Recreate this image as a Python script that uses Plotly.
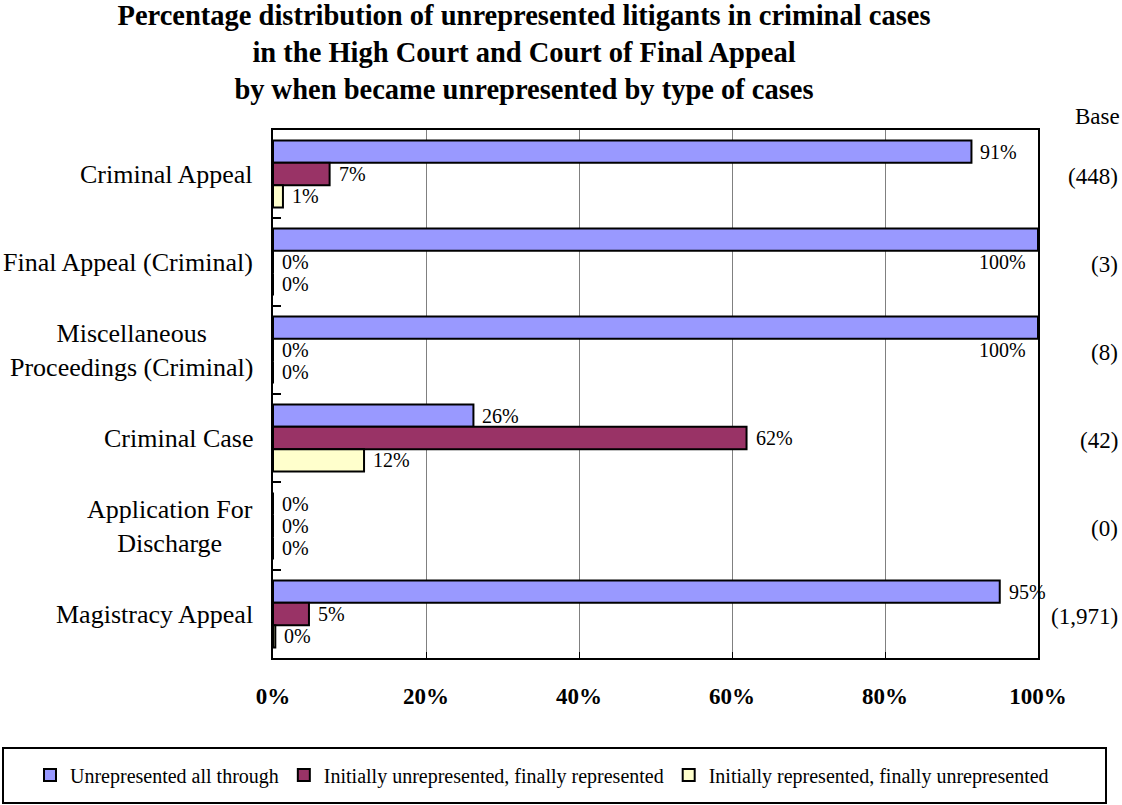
import plotly.graph_objects as go

# data (percent of litigants)
categories = ["Criminal Appeal", "Final Appeal (Criminal)",
              "Miscellaneous<br>Proceedings (Criminal)", "Criminal Case",
              "Application For<br>Discharge", "Magistracy Appeal"]
bases = ["(448)", "(3)", "(8)", "(42)", "(0)", "(1,971)"]
series_names = ["Unrepresented all through",
                "Initially unrepresented, finally represented",
                "Initially represented, finally unrepresented"]
unrep_all = [91.3, 100, 100, 26.2, 0, 95.0]
unrep_then_rep = [7.4, 0, 0, 61.9, 0, 4.7]
rep_then_unrep = [1.3, 0, 0, 11.9, 0, 0.3]
x_ticks = [0, 20, 40, 60, 80, 100]

colors = ["#9999FF", "#993366", "#FFFFCC"]
FONT = "Liberation Serif"

W, H = 1122, 805
ML, MR, MT, MB = 273, 84, 130, 147
BARGAP = 0.24
plot_w = W - ML - MR
plot_h = H - MT - MB
bar_px = plot_h / len(categories) * (1 - BARGAP) / 3


def px_x(p):
    # page pixel -> paper x
    return (p - ML) / plot_w


def px_y(p):
    # page pixel -> paper y
    return (H - MB - p) / plot_h


fig = go.Figure()
for name, vals, col in zip(series_names, [unrep_all, unrep_then_rep, rep_then_unrep], colors):
    fig.add_trace(go.Bar(
        y=categories, x=vals, name=name, orientation="h",
        marker=dict(color=col, line=dict(color="black", width=2)),
        hoverinfo="skip",
    ))

# value labels next to each bar
series = [unrep_all, unrep_then_rep, rep_then_unrep]
for i, vals in enumerate(series):
    shift = (1 - i) * bar_px
    for cat, v in zip(categories, vals):
        txt = f"{round(v)}%"
        if v >= 99.5:
            fig.add_annotation(x=v, y=cat, text=txt, showarrow=False, xanchor="right",
                               xshift=-10, yshift=shift - bar_px,
                               font=dict(family=FONT, size=20, color="black"))
        else:
            fig.add_annotation(x=v, y=cat, text=txt, showarrow=False, xanchor="left",
                               xshift=7, yshift=shift,
                               font=dict(family=FONT, size=20, color="black"))

# category labels (centred lines, right aligned block)
for cat in categories:
    fig.add_annotation(x=0, xref="paper", y=cat, text=cat, showarrow=False,
                       xanchor="right", align="center", xshift=-18,
                       font=dict(family=FONT, size=26, color="black"))

# base counts on the right
for cat, b in zip(categories, bases):
    fig.add_annotation(x=1, xref="paper", y=cat, text=b, showarrow=False,
                       xanchor="right", xshift=82, yshift=-2,
                       font=dict(family=FONT, size=23, color="black"))
fig.add_annotation(x=1, xref="paper", y=1, yref="paper", text="Base", showarrow=False,
                   xanchor="right", yanchor="bottom", xshift=84, yshift=-1,
                   font=dict(family=FONT, size=23, color="black"))

# frame around the legend
fig.add_shape(type="rect", xref="paper", yref="paper",
              x0=px_x(3), x1=px_x(1106), y0=px_y(803), y1=px_y(748),
              line=dict(color="black", width=2), fillcolor="rgba(0,0,0,0)", layer="above")

fig.update_layout(
    width=W, height=H,
    margin=dict(l=ML, r=MR, t=MT, b=MB, autoexpand=False),
    paper_bgcolor="white", plot_bgcolor="white",
    barmode="group", bargap=BARGAP, bargroupgap=0,
    title=dict(
        text="Percentage distribution of unrepresented litigants in criminal cases<br>"
             "in the High Court and Court of Final Appeal<br>"
             "by when became unrepresented by type of cases",
        x=524 / W, xref="container", xanchor="center",
        y=1 - 25 / H, yref="container", yanchor="top",
        font=dict(family=FONT, size=28.5, color="black", weight="bold"),
    ),
    xaxis=dict(
        range=[0, 100], tickvals=x_ticks, ticktext=[f"{t}%" for t in x_ticks],
        showgrid=True, gridcolor="#808080", gridwidth=1, zeroline=False,
        showline=True, mirror=True, linecolor="black", linewidth=2,
        ticks="inside", ticklen=6, tickcolor="black", tickwidth=1,
        ticklabelstandoff=16,
        tickfont=dict(family=FONT, size=23, color="black", weight="bold"),
    ),
    yaxis=dict(
        type="category", autorange="reversed", showticklabels=False,
        showgrid=False, zeroline=False,
        showline=True, mirror=True, linecolor="black", linewidth=2,
        ticks="inside", tickson="boundaries", ticklen=8, tickcolor="black", tickwidth=2,
    ),
    legend=dict(
        orientation="h", x=px_x(30), xanchor="left",
        y=px_y(775), yanchor="middle",
        borderwidth=0, bgcolor="rgba(0,0,0,0)",
        font=dict(family=FONT, size=20, color="black"),
        itemclick=False, itemdoubleclick=False,
    ),
    showlegend=True,
)

# the page's default body margin would shift the chart by 8px
fig.write_html("out.html", config={"displayModeBar": False},
               post_script="document.body.style.margin='0';")
